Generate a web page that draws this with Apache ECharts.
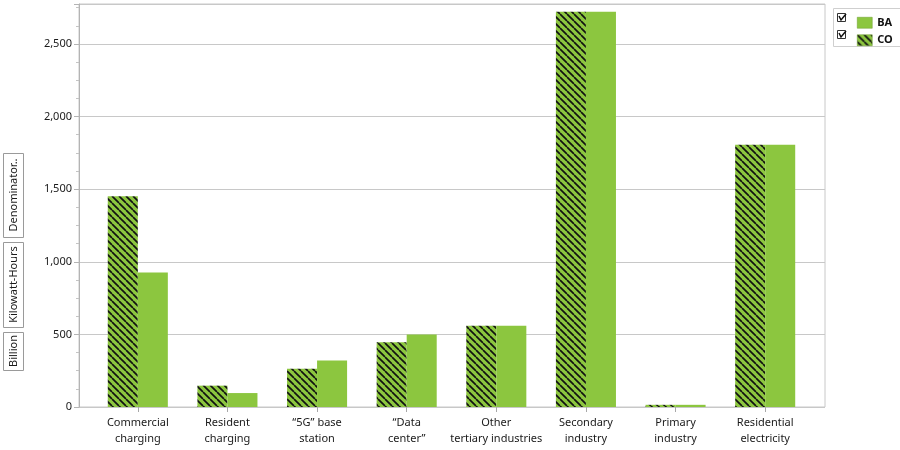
<!DOCTYPE html>
<html>
<head>
<meta charset="utf-8">
<script src="https://cdn.jsdelivr.net/npm/echarts@6/dist/echarts.min.js"></script>
<style>html,body{margin:0;padding:0;background:#fff}#c{width:900px;height:450px}</style>
</head>
<body>
<div id="c"></div>
<script>
const categories = ['Commercial\ncharging', 'Resident\ncharging', '\u201c5G\u201d base\nstation', '\u201cData\ncenter\u201d', 'Other\ntertiary industries', 'Secondary\nindustry', 'Primary\nindustry', 'Residential\nelectricity'];
const coValues = [1452, 147, 264, 445, 560, 2722, 15, 1805];
const baValues = [926, 96, 321, 500, 560, 2722, 15, 1805];
const yAxisNameParts = ['Billion', 'Kilowatt-Hours', 'Denominator..'];
const seriesNames = ['BA', 'CO'];

const GREEN = '#8cc63f';
function makePattern() {
  const s = 7;
  const cv = document.createElement('canvas');
  cv.width = s; cv.height = s;
  const ctx = cv.getContext('2d');
  ctx.fillStyle = GREEN;
  ctx.fillRect(0, 0, s, s);
  ctx.strokeStyle = '#111';
  ctx.lineWidth = 1.7;
  for (const x0 of [-s, 0, s]) {
    ctx.beginPath();
    ctx.moveTo(x0, 0);
    ctx.lineTo(x0 + s, s);
    ctx.stroke();
  }
  return { image: cv, repeat: 'repeat' };
}
const hatch = makePattern();

const chart = echarts.init(document.getElementById('c'));
const FONT = 'Noto Sans';
const YMAX = 2775;

const boxes = [
  { y0: 332, y1: 370 },
  { y0: 242, y1: 327 },
  { y0: 153, y1: 237 }
];
const graphics = [];
yAxisNameParts.forEach((t, i) => {
  const b = boxes[i];
  graphics.push({
    type: 'rect', shape: { x: 3.5, y: b.y0 + 0.5, width: 20, height: b.y1 - b.y0 },
    style: { fill: '#fff', stroke: '#9a9a9a', lineWidth: 1 }
  });
  graphics.push({
    type: 'text', x: 13.5, y: (b.y0 + b.y1) / 2, rotation: Math.PI / 2,
    style: { text: t, x: 0, y: 0, align: 'center', verticalAlign: 'middle', fill: '#1a1a1a', font: '11px "' + FONT + '"' }
  });
});
graphics.push({
  type: 'rect', shape: { x: 833.5, y: 8.5, width: 70, height: 38 },
  style: { fill: 'none', stroke: '#cfcfcf', lineWidth: 1 }
});
[13, 30].forEach(cy => {
  graphics.push({ type: 'rect', shape: { x: 837.5, y: cy + 0.5, width: 8, height: 8 }, style: { fill: '#fff', stroke: '#333', lineWidth: 1 } });
  graphics.push({ type: 'polyline', shape: { points: [[839, cy + 3], [841, cy + 7], [846, cy + 1]] }, style: { fill: 'none', stroke: '#111', lineWidth: 1.5 } });
});

chart.setOption({
  animation: false,
  backgroundColor: '#fff',
  textStyle: { fontFamily: FONT },
  grid: [
    { left: 79, right: 75, top: 4, bottom: 43, show: true, borderColor: '#c8c8c8', borderWidth: 1, containLabel: false },
    { left: 93, right: 90, top: 4, bottom: 43, containLabel: false }
  ],
  legend: {
    data: seriesNames, orient: 'vertical', left: 852, top: 12, icon: 'rect',
    itemWidth: 15, itemHeight: 11, itemGap: 6,
    itemStyle: { borderColor: '#6a9a2a', borderWidth: 0.5 },
    textStyle: { fontSize: 11, color: '#111', fontFamily: FONT, fontWeight: 'bold' },
    selectedMode: false
  },
  xAxis: [
    { gridIndex: 0, type: 'value', min: 0, max: 1, show: false },
    {
      gridIndex: 1, type: 'category', data: categories,
      axisLine: { show: false },
      axisTick: { show: true, alignWithLabel: true, length: 5, lineStyle: { color: '#a8a8a8' } },
      axisLabel: { interval: 0, margin: 8, fontSize: 11, lineHeight: 16, color: '#1a1a1a', fontFamily: FONT }
    }
  ],
  yAxis: [
    {
      gridIndex: 0, type: 'value', min: 0, max: YMAX, interval: 500,
      axisLine: { show: true, lineStyle: { color: '#b4b4b4' } },
      axisTick: { show: true, length: 5, lineStyle: { color: '#b4b4b4' } },
      minorTick: { show: true, splitNumber: 4, length: 3, lineStyle: { color: '#c4c4c4' } },
      splitLine: { show: true, lineStyle: { color: '#c8c8c8', width: 1 } },
      axisLabel: { showMaxLabel: false, margin: 7, fontSize: 11, color: '#1a1a1a', fontFamily: FONT }
    },
    { gridIndex: 1, type: 'value', min: 0, max: YMAX, show: false }
  ],
  series: [
    {
      name: 'CO', type: 'bar', xAxisIndex: 1, yAxisIndex: 1, data: coValues,
      barGap: '0%', barCategoryGap: '33%',
      itemStyle: { color: hatch }
    },
    {
      name: 'BA', type: 'bar', xAxisIndex: 1, yAxisIndex: 1, data: baValues,
      barGap: '0%', barCategoryGap: '33%',
      itemStyle: { color: GREEN }
    }
  ],
  graphic: graphics
});
</script>
</body>
</html>
